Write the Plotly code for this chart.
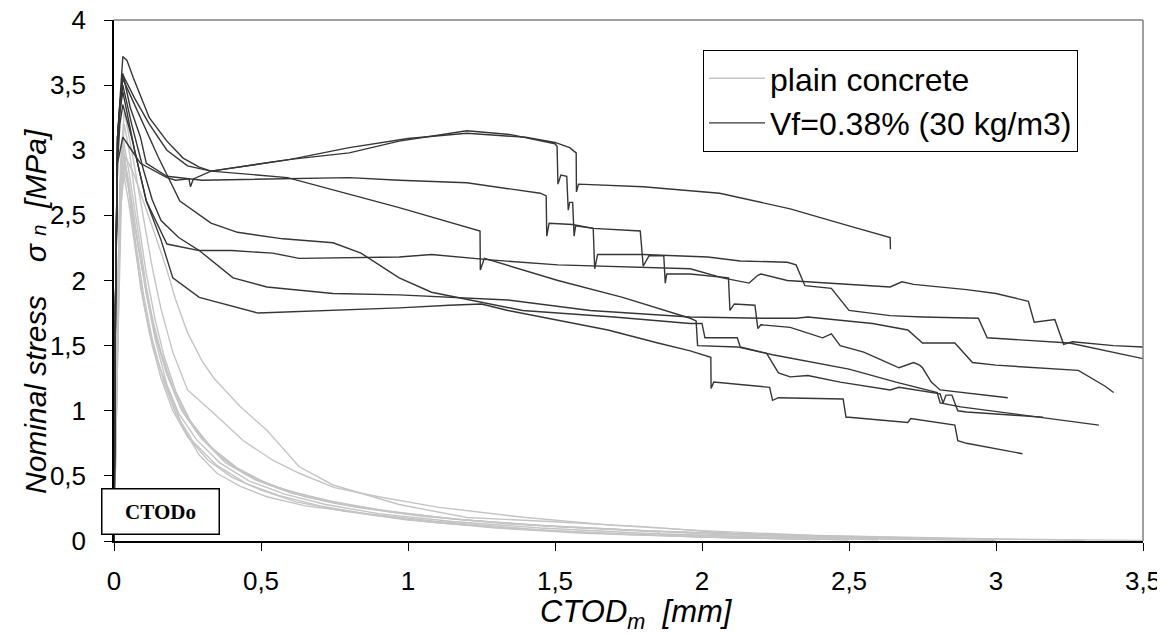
import plotly.graph_objects as go

# ---------------- data: plain concrete (light grey) ----------------
plain1_x = [0, 0.012, 0.025, 0.04, 0.07, 0.1, 0.14, 0.18, 0.21, 0.25, 0.3, 0.34, 0.43, 0.52, 0.54, 0.63, 0.745, 0.97, 1.2, 1.48, 1.8, 2.1, 2.5, 2.9, 3.3]
plain1_y = [0, 1.4, 2.6, 2.95, 2.8, 2.61, 2.35, 2.08, 1.85, 1.6, 1.38, 1.25, 1.03, 0.85, 0.80, 0.57, 0.43, 0.28, 0.18, 0.15, 0.11, 0.06, 0.03, 0.015, 0.005]
plain2_x = [0, 0.01, 0.022, 0.035, 0.06, 0.09, 0.13, 0.16, 0.2, 0.25, 0.33, 0.44, 0.54, 0.63, 0.75, 0.9, 1.1, 1.4, 1.7, 2.0, 2.4, 2.8]
plain2_y = [0, 1.6, 2.9, 3.3, 3.0, 2.6, 2.1, 1.78, 1.45, 1.16, 1.0, 0.77, 0.62, 0.52, 0.41, 0.34, 0.26, 0.18, 0.12, 0.08, 0.04, 0.02]
plain3_x = [0, 0.01, 0.02, 0.03, 0.05, 0.08, 0.11, 0.14, 0.18, 0.23, 0.3, 0.4, 0.5, 0.6, 0.75, 0.95, 1.2, 1.5, 1.85, 1.86, 2.2, 2.6, 3.0]
plain3_y = [0, 1.5, 2.7, 3.1, 2.85, 2.4, 1.95, 1.6, 1.28, 1.0, 0.78, 0.58, 0.46, 0.38, 0.3, 0.22, 0.16, 0.11, 0.07, 0.05, 0.03, 0.015, 0.005]
plain4_x = [0, 0.01, 0.02, 0.03, 0.05, 0.08, 0.11, 0.14, 0.18, 0.22, 0.28, 0.36, 0.46, 0.58, 0.72, 0.9, 1.15, 1.45, 1.8, 2.2, 2.6]
plain4_y = [0, 1.4, 2.5, 2.9, 2.7, 2.3, 1.9, 1.55, 1.2, 0.98, 0.78, 0.6, 0.46, 0.36, 0.28, 0.21, 0.15, 0.1, 0.06, 0.03, 0.01]
plain5_x = [0, 0.01, 0.02, 0.028, 0.045, 0.07, 0.1, 0.13, 0.17, 0.21, 0.27, 0.35, 0.45, 0.56, 0.7, 0.88, 1.1, 1.4, 1.75, 2.1, 2.5]
plain5_y = [0, 1.6, 2.7, 3.0, 2.8, 2.35, 1.9, 1.55, 1.22, 0.98, 0.76, 0.58, 0.44, 0.35, 0.27, 0.2, 0.14, 0.09, 0.05, 0.025, 0.01]
plain6_x = [0, 0.012, 0.024, 0.035, 0.055, 0.08, 0.11, 0.14, 0.17, 0.21, 0.26, 0.33, 0.42, 0.52, 0.65, 0.82, 1.05, 1.35, 1.7, 2.05, 2.45, 2.9]
plain6_y = [0, 1.5, 2.8, 3.2, 2.95, 2.5, 2.05, 1.7, 1.42, 1.15, 0.92, 0.72, 0.56, 0.44, 0.34, 0.26, 0.19, 0.13, 0.09, 0.05, 0.025, 0.01]
plain7_x = [0, 0.01, 0.02, 0.03, 0.05, 0.075, 0.1, 0.13, 0.16, 0.2, 0.25, 0.32, 0.4, 0.5, 0.62, 0.78, 1.0, 1.3, 1.6, 2.0, 2.4]
plain7_y = [0, 1.3, 2.4, 2.85, 2.6, 2.2, 1.85, 1.5, 1.25, 1.0, 0.8, 0.62, 0.49, 0.39, 0.3, 0.23, 0.16, 0.1, 0.06, 0.03, 0.01]
plain8_x = [0, 0.01, 0.02, 0.03, 0.045, 0.065, 0.09, 0.12, 0.156, 0.2, 0.235, 0.29, 0.35, 0.43, 0.52, 0.65, 0.86, 1.1, 1.48, 2.0, 2.5]
plain8_y = [0, 1.5, 2.6, 3.05, 2.8, 2.4, 1.95, 1.6, 1.33, 1.07, 0.87, 0.66, 0.52, 0.42, 0.34, 0.27, 0.21, 0.15, 0.08, 0.03, 0.01]
plain9_x = [0, 0.01, 0.02, 0.032, 0.05, 0.08, 0.11, 0.14, 0.18, 0.22, 0.28, 0.36, 0.45, 0.56, 0.7, 0.9, 1.15, 1.45, 1.8, 2.2, 2.6, 3.0, 3.5]
plain9_y = [0, 1.4, 2.5, 2.95, 2.75, 2.3, 1.9, 1.58, 1.28, 1.06, 0.84, 0.65, 0.51, 0.41, 0.32, 0.24, 0.17, 0.12, 0.08, 0.05, 0.03, 0.015, 0.005]
plain10_x = [0, 0.01, 0.02, 0.03, 0.05, 0.08, 0.12, 0.16, 0.2, 0.25, 0.31, 0.38, 0.48, 0.6, 0.75, 0.95, 1.2, 1.5, 1.9, 2.3, 2.8]
plain10_y = [0, 1.5, 2.6, 3.0, 2.75, 2.3, 1.8, 1.45, 1.18, 0.95, 0.76, 0.6, 0.47, 0.37, 0.29, 0.22, 0.16, 0.11, 0.07, 0.04, 0.015]

# ---------------- data: fibre concrete Vf=0.38% (dark grey) ----------------
fibre1_x = [0, 0.005, 0.012, 0.02, 0.03, 0.044, 0.065, 0.12, 0.18, 0.235, 0.29, 0.33, 0.45, 0.6, 0.8, 1.0, 1.2, 1.4, 1.5, 1.55, 1.572, 1.573, 1.58, 1.8, 2.06, 2.3, 2.5, 2.64, 2.641]
fibre1_y = [0, 1.8, 3.1, 3.4, 3.72, 3.69, 3.56, 3.25, 3.07, 2.94, 2.87, 2.84, 2.88, 2.93, 3.02, 3.09, 3.13, 3.10, 3.06, 3.02, 2.98, 2.68, 2.74, 2.72, 2.67, 2.55, 2.42, 2.33, 2.24]
fibre2_x = [0, 0.005, 0.012, 0.03, 0.06, 0.09, 0.18, 0.21, 0.255, 0.26, 0.27, 0.33, 0.6, 0.8, 0.97, 1.2, 1.35, 1.5, 1.507, 1.51, 1.52, 1.54, 1.545, 1.55, 1.56, 1.565, 1.57, 1.63, 1.635, 1.645, 1.80, 2.02, 2.13, 2.29, 2.32, 2.35, 2.44, 2.50, 2.64, 2.75, 2.94, 2.97, 3.25, 3.5]
fibre2_y = [0, 1.8, 2.9, 3.1, 3.0, 2.9, 2.79, 2.77, 2.78, 2.72, 2.78, 2.84, 2.93, 2.98, 3.07, 3.15, 3.12, 3.05, 3.03, 2.74, 2.81, 2.80, 2.54, 2.6, 2.6, 2.34, 2.42, 2.40, 2.09, 2.2, 2.2, 2.18, 2.15, 2.14, 2.12, 1.96, 1.94, 1.77, 1.73, 1.72, 1.71, 1.56, 1.52, 1.40]
fibre3_x = [0, 0.005, 0.012, 0.02, 0.03, 0.055, 0.09, 0.11, 0.18, 0.3, 0.6, 0.8, 0.97, 1.2, 1.45, 1.47, 1.472, 1.48, 1.56, 1.63, 1.79, 1.80, 1.82, 1.87, 1.875, 1.88, 1.96, 2.08, 2.09, 2.095, 2.11, 2.18, 2.19, 2.2, 2.3, 2.41, 2.44, 2.47, 2.55, 2.6, 2.67, 2.72, 2.74, 2.75, 2.78, 2.81, 3.04]
fibre3_y = [0, 1.8, 3.1, 3.35, 3.59, 3.33, 3.1, 2.9, 2.8, 2.77, 2.78, 2.79, 2.77, 2.75, 2.67, 2.65, 2.34, 2.44, 2.43, 2.40, 2.38, 2.11, 2.19, 2.19, 1.98, 2.05, 2.05, 2.02, 2.02, 1.77, 1.82, 1.81, 1.63, 1.66, 1.64, 1.56, 1.59, 1.50, 1.45, 1.40, 1.33, 1.37, 1.35, 1.33, 1.22, 1.16, 1.10]
fibre4_x = [0, 0.005, 0.012, 0.02, 0.03, 0.07, 0.12, 0.18, 0.25, 0.33, 0.59, 0.97, 1.245, 1.246, 1.26, 1.51, 1.73, 1.96, 1.98, 1.985, 2.12, 2.24, 2.5, 2.66, 2.80, 2.81, 2.88, 3.35]
fibre4_y = [0, 1.8, 3.1, 3.35, 3.58, 3.4, 3.2, 3.0, 2.88, 2.84, 2.79, 2.56, 2.38, 2.08, 2.17, 2.0, 1.87, 1.71, 1.69, 1.50, 1.49, 1.43, 1.32, 1.22, 1.14, 1.06, 1.03, 0.89]
fibre5_x = [0, 0.005, 0.012, 0.02, 0.03, 0.06, 0.1, 0.13, 0.16, 0.22, 0.29, 0.4, 0.54, 0.63, 0.97, 1.08, 1.27, 1.51, 1.96, 2.07, 2.16, 2.19, 2.2, 2.29, 2.64, 2.68, 2.72, 2.9, 3.0, 3.11, 3.13, 3.2, 3.23, 3.26, 3.4, 3.5]
fibre5_y = [0, 1.8, 3.05, 3.3, 3.5, 3.2, 2.85, 2.62, 2.46, 2.33, 2.23, 2.23, 2.21, 2.17, 2.18, 2.2, 2.16, 2.12, 2.09, 2.02, 1.98, 2.04, 2.05, 2.0, 1.95, 1.99, 1.97, 1.93, 1.90, 1.84, 1.68, 1.70, 1.51, 1.53, 1.50, 1.49]
fibre6_x = [0, 0.005, 0.012, 0.02, 0.03, 0.08, 0.15, 0.224, 0.33, 0.42, 0.575, 0.745, 0.84, 0.97, 1.08, 1.39, 1.7, 1.96, 2.0, 2.01, 2.12, 2.13, 2.22, 2.26, 2.30, 2.36, 2.47, 2.64, 2.67, 2.81, 2.82, 2.83, 2.85, 2.87, 2.90, 3.16]
fibre6_y = [0, 1.8, 3.1, 3.35, 3.55, 3.3, 2.95, 2.61, 2.44, 2.37, 2.32, 2.29, 2.21, 2.02, 1.91, 1.77, 1.72, 1.67, 1.67, 1.56, 1.56, 1.49, 1.44, 1.29, 1.26, 1.27, 1.22, 1.16, 1.18, 1.13, 1.06, 1.12, 1.12, 1.0, 0.99, 0.95]
fibre7_x = [0, 0.005, 0.012, 0.02, 0.03, 0.07, 0.11, 0.18, 0.29, 0.405, 0.52, 0.745, 0.97, 1.34, 1.62, 1.96, 2.21, 2.32, 2.36, 2.58, 2.70, 2.75, 2.86, 2.92, 3.0, 3.28, 3.37, 3.40]
fibre7_y = [0, 1.8, 3.0, 3.3, 3.45, 3.0, 2.61, 2.28, 2.23, 2.02, 1.95, 1.90, 1.89, 1.85, 1.77, 1.72, 1.71, 1.71, 1.72, 1.67, 1.62, 1.52, 1.52, 1.37, 1.35, 1.31, 1.19, 1.14]
fibre8_x = [0, 0.005, 0.012, 0.02, 0.03, 0.06, 0.11, 0.16, 0.2, 0.29, 0.49, 0.745, 0.97, 1.14, 1.25, 1.34, 1.5, 1.68, 1.85, 1.96, 2.03, 2.031, 2.04, 2.23, 2.24, 2.26, 2.48, 2.49, 2.50, 2.70, 2.71, 2.86, 2.87, 2.90, 3.09]
fibre8_y = [0, 1.8, 2.9, 3.2, 3.35, 3.1, 2.61, 2.31, 2.02, 1.87, 1.75, 1.77, 1.79, 1.81, 1.82, 1.77, 1.70, 1.62, 1.52, 1.46, 1.41, 1.17, 1.22, 1.18, 1.08, 1.10, 1.09, 0.95, 0.95, 0.91, 0.94, 0.89, 0.77, 0.75, 0.67]

plain_curves = [(plain1_x, plain1_y), (plain2_x, plain2_y), (plain3_x, plain3_y), (plain4_x, plain4_y),
                (plain5_x, plain5_y), (plain6_x, plain6_y), (plain7_x, plain7_y), (plain8_x, plain8_y),
                (plain9_x, plain9_y), (plain10_x, plain10_y)]
fibre_curves = [(fibre1_x, fibre1_y), (fibre2_x, fibre2_y), (fibre3_x, fibre3_y), (fibre4_x, fibre4_y),
                (fibre5_x, fibre5_y), (fibre6_x, fibre6_y), (fibre7_x, fibre7_y), (fibre8_x, fibre8_y)]

x_ticks = [0, 0.5, 1, 1.5, 2, 2.5, 3, 3.5]
x_tick_labels = ["0", "0,5", "1", "1,5", "2", "2,5", "3", "3,5"]
y_ticks = [0, 0.5, 1, 1.5, 2, 2.5, 3, 3.5, 4]
y_tick_labels = ["0", "0,5", "1", "1,5", "2", "2,5", "3", "3,5", "4"]

PLAIN_COLOR = "#c4c4c4"
FIBRE_COLOR = "#363636"
FONT = "Liberation Sans, Arial, sans-serif"

fig = go.Figure()
for i, (xs, ys) in enumerate(plain_curves):
    fig.add_trace(go.Scatter(x=xs, y=ys, mode="lines", name="plain concrete",
                             legendgroup="plain", showlegend=(i == 0),
                             line=dict(color=PLAIN_COLOR, width=1.4)))
for i, (xs, ys) in enumerate(fibre_curves):
    fig.add_trace(go.Scatter(x=xs, y=ys, mode="lines", name="Vf=0.38% (30 kg/m3)",
                             legendgroup="fibre", showlegend=(i == 0),
                             line=dict(color=FIBRE_COLOR, width=1.4)))

# page body has an 8px margin; figure is sized to fit the 1165x634 window
W, H = 1157, 626
OFF = 8
PL, PR, PT, PB = 114, 1143, 20, 541          # plot area in window pixels
L, R, T, B = PL - OFF, (W + OFF) - PR, PT - OFF, (H + OFF) - PB


def px_x(p):
    return (p - PL) / (PR - PL)


def px_y(p):
    return (PB - p) / (PB - PT)


fig.update_layout(
    width=W, height=H, autosize=False,
    margin=dict(l=L, r=R, t=T, b=B, pad=0, autoexpand=False),
    paper_bgcolor="white", plot_bgcolor="white",
    font=dict(family=FONT, color="black"),
    showlegend=True,
    legend=dict(x=px_x(703), y=px_y(50), xanchor="left", yanchor="top",
                bordercolor="black", borderwidth=1, bgcolor="white",
                font=dict(size=32, family=FONT, color="black"),
                tracegroupgap=0, itemwidth=56),
    xaxis=dict(range=[0, 3.5], tickvals=x_ticks, ticktext=x_tick_labels,
               ticks="outside", ticklen=8, tickwidth=1.2, tickcolor="black",
               showline=True, linecolor="black", linewidth=1.5,
               showgrid=False, zeroline=False, automargin=False,
               tickfont=dict(size=26, family=FONT, color="black"),
               ticklabelstandoff=8, ticklabeloverflow="allow"),
    yaxis=dict(range=[0, 4], tickvals=y_ticks, ticktext=y_tick_labels,
               ticks="outside", ticklen=8, tickwidth=1.2, tickcolor="black",
               showline=True, linecolor="black", linewidth=1.5,
               showgrid=False, zeroline=False, automargin=False,
               tickfont=dict(size=26, family=FONT, color="black"),
               ticklabelstandoff=13, ticklabeloverflow="allow"),
)

# gray top and right border
fig.add_shape(type="line", xref="paper", yref="paper", x0=0, x1=1, y0=1, y1=1,
              line=dict(color="#808080", width=1.5))
fig.add_shape(type="line", xref="paper", yref="paper", x0=1, x1=1, y0=0, y1=1,
              line=dict(color="#808080", width=1.5))

# axis titles
fig.add_annotation(xref="paper", yref="paper", x=px_x(636), y=px_y(614),
                   text="<i>CTOD</i><sub><i>m</i></sub><i>  [mm]</i>", showarrow=False,
                   font=dict(size=31, family=FONT, color="black"), xanchor="center", yanchor="middle")
fig.add_annotation(xref="paper", yref="paper", x=px_x(35), y=px_y(312),
                   text=("<i>Nominal stress</i>    <i>σ</i> "
                         "<span style='font-size:20px'><i>n</i></span>  <i>[MPa]</i>"),
                   textangle=-90, showarrow=False,
                   font=dict(size=30, family=FONT, color="black"), xanchor="center", yanchor="middle")

# CTODo box
fig.add_annotation(xref="paper", yref="paper", x=px_x(160), y=px_y(511),
                   text="<b>CTODo</b>", showarrow=False, width=112, height=40,
                   bordercolor="black", borderwidth=1.5, borderpad=2, bgcolor="white",
                   font=dict(size=21, family="Liberation Serif, Times New Roman, serif", color="black"),
                   xanchor="center", yanchor="middle")

fig.write_html("out.html")
